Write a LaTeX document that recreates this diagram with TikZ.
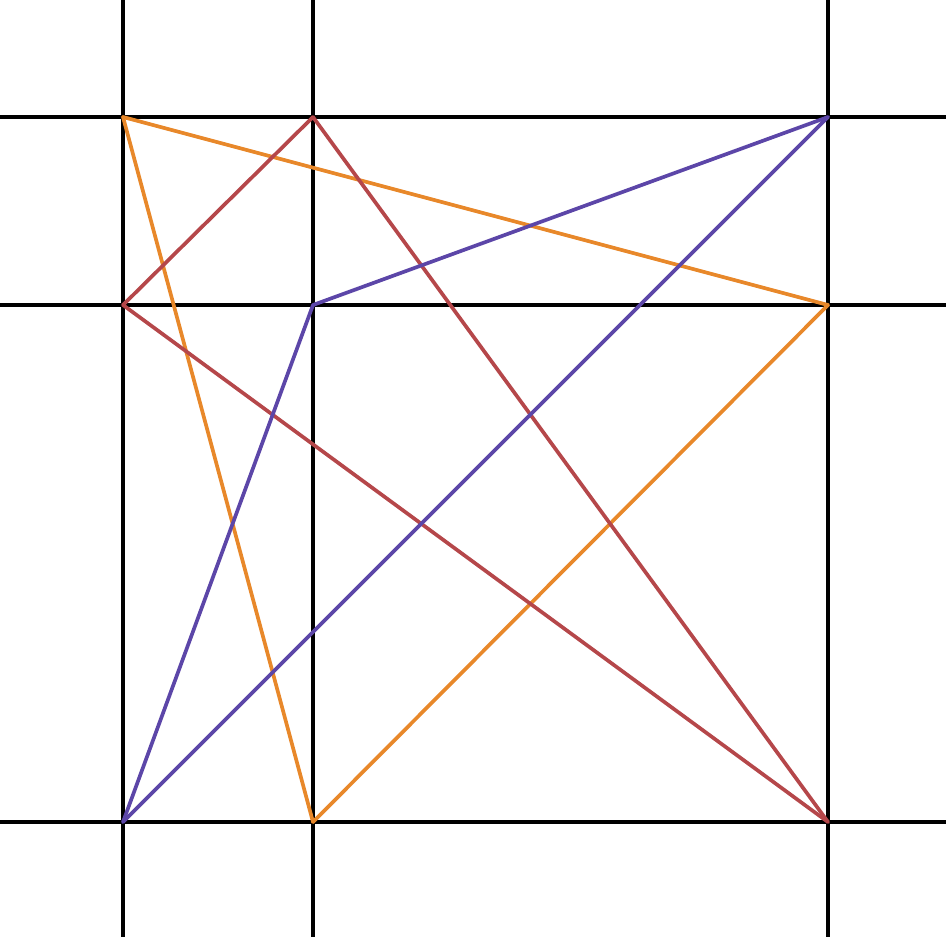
\documentclass[tikz,border=0pt]{standalone}
\definecolor{cor}{HTML}{E8882A}
\definecolor{cre}{HTML}{B5474A}
\definecolor{cpu}{HTML}{5C46A8}
\begin{document}
\begin{tikzpicture}[x=0.02cm,y=-0.02cm,
  gridline/.style={black,line width=2.4pt},
  seg/.style={line width=2.1pt,line cap=round}]
\useasboundingbox (0,0) rectangle (946,937);
% grid
\coordinate (x1t) at (123,0); \coordinate (x1b) at (123,937);
\coordinate (x2t) at (313,0); \coordinate (x2b) at (313,937);
\coordinate (x3t) at (828,0); \coordinate (x3b) at (828,937);
\coordinate (y1l) at (0,117); \coordinate (y1r) at (946,117);
\coordinate (y2l) at (0,305); \coordinate (y2r) at (946,305);
\coordinate (y3l) at (0,822); \coordinate (y3r) at (946,822);
\draw[gridline] (x1t) -- (x1b);
\draw[gridline] (x2t) -- (x2b);
\draw[gridline] (x3t) -- (x3b);
\draw[gridline] (y1l) -- (y1r);
\draw[gridline] (y2l) -- (y2r);
\draw[gridline] (y3l) -- (y3r);
% points
\coordinate (A) at (123,117);
\coordinate (B) at (313,117);
\coordinate (C) at (828,117);
\coordinate (D) at (123,305);
\coordinate (E) at (313,305);
\coordinate (F) at (828,305);
\coordinate (G) at (123,822);
\coordinate (H) at (313,822);
\coordinate (I) at (828,822);
% orange
\draw[seg,cor] (A) -- (F);
\draw[seg,cor] (A) -- (H);
\draw[seg,cor] (F) -- (H);
% red
\draw[seg,cre] (D) -- (B);
\draw[seg,cre] (B) -- (I);
\draw[seg,cre] (D) -- (I);
% purple
\draw[seg,cpu] (E) -- (C);
\draw[seg,cpu] (E) -- (G);
\draw[seg,cpu] (G) -- (C);
\end{tikzpicture}
\end{document}
